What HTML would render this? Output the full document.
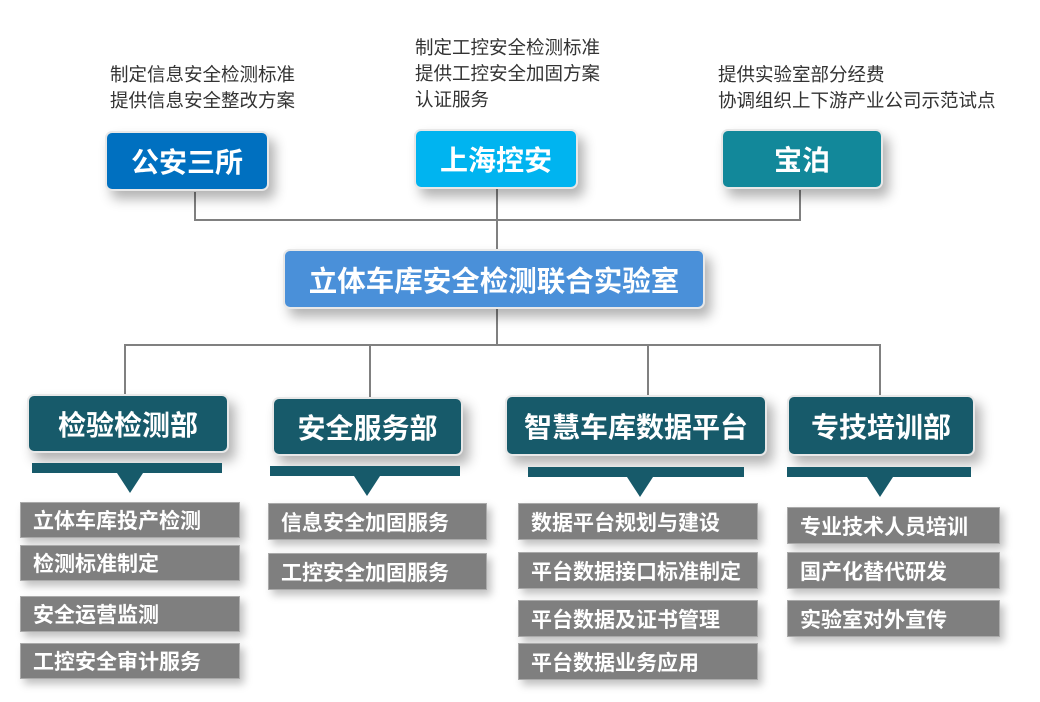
<!DOCTYPE html>
<html><head><meta charset="utf-8"><style>
body{margin:0;width:1040px;height:702px;background:#fff;position:relative;overflow:hidden;font-family:"Liberation Sans","Noto Sans CJK SC",sans-serif}
.a{position:absolute}
.t{color:#333;font-size:18.5px;line-height:26px}
.b{position:absolute;border-radius:7px;color:#fff;font-weight:bold;display:flex;align-items:center;justify-content:center;border:2px solid #e8e8e8;box-shadow:6px 8px 12px rgba(0,0,0,.3);box-sizing:border-box}
.d{background:#175a6a;font-size:28px}
.i{position:absolute;background:#7f7f7f;color:#fff;font-size:21px;font-weight:bold;display:flex;align-items:center;padding-left:12px;box-sizing:border-box;border:1px solid #aaa;box-shadow:4px 5px 8px rgba(0,0,0,.25);white-space:nowrap}
.l{position:absolute;background:#808080}
.bar{position:absolute;background:#175a6a;height:10px}
.tri{position:absolute;width:0;height:0;border-left:13px solid transparent;border-right:13px solid transparent;border-top:20px solid #175a6a}
</style></head><body>
<div class="a t" style="left:110px;top:62px">制定信息安全检测标准<br>提供信息安全整改方案</div>
<div class="a t" style="left:415px;top:35px">制定工控安全检测标准<br>提供工控安全加固方案<br>认证服务</div>
<div class="a t" style="left:718px;top:62px">提供实验室部分经费<br>协调组织上下游产业公司示范试点</div>

<div class="l" style="left:194px;top:192px;width:2px;height:29px"></div>
<div class="l" style="left:194px;top:219px;width:607px;height:2px"></div>
<div class="l" style="left:799px;top:190px;width:2px;height:30px"></div>
<div class="l" style="left:496px;top:188px;width:2px;height:62px"></div>
<div class="l" style="left:496px;top:308px;width:2px;height:38px"></div>
<div class="l" style="left:124px;top:344px;width:757px;height:2px"></div>
<div class="l" style="left:124px;top:344px;width:2px;height:52px"></div>
<div class="l" style="left:369px;top:344px;width:2px;height:54px"></div>
<div class="l" style="left:647px;top:344px;width:2px;height:53px"></div>
<div class="l" style="left:879px;top:344px;width:2px;height:53px"></div>

<div class="b" style="left:105px;top:131px;width:164px;height:60px;background:#0070c0;font-size:28px">公安三所</div>
<div class="b" style="left:414px;top:129px;width:164px;height:60px;background:#00b4f0;font-size:28px">上海控安</div>
<div class="b" style="left:721px;top:129px;width:162px;height:60px;background:#12889a;font-size:28px">宝泊</div>
<div class="b" style="left:283px;top:249px;width:422px;height:60px;background:#4a90d9;font-size:28.5px">立体车库安全检测联合实验室</div>

<div class="b d" style="left:27px;top:394px;width:202px;height:59px">检验检测部</div>
<div class="b d" style="left:272px;top:397px;width:191px;height:59px">安全服务部</div>
<div class="b d" style="left:505px;top:395px;width:262px;height:61px">智慧车库数据平台</div>
<div class="b d" style="left:787px;top:395px;width:188px;height:61px">专技培训部</div>

<div class="bar" style="left:32px;top:463px;width:190px"></div><div class="tri" style="left:117px;top:473px"></div>
<div class="bar" style="left:270px;top:466px;width:190px"></div><div class="tri" style="left:354px;top:476px"></div>
<div class="bar" style="left:528px;top:467px;width:216px"></div><div class="tri" style="left:627px;top:477px"></div>
<div class="bar" style="left:787px;top:467px;width:184px"></div><div class="tri" style="left:867px;top:477px"></div>

<div class="i" style="left:20px;top:502px;width:220px;height:36px">立体车库投产检测</div>
<div class="i" style="left:20px;top:545px;width:220px;height:36px">检测标准制定</div>
<div class="i" style="left:20px;top:596px;width:220px;height:36px">安全运营监测</div>
<div class="i" style="left:20px;top:643px;width:220px;height:36px">工控安全审计服务</div>

<div class="i" style="left:268px;top:503px;width:219px;height:37px">信息安全加固服务</div>
<div class="i" style="left:268px;top:553px;width:219px;height:37px">工控安全加固服务</div>

<div class="i" style="left:518px;top:503px;width:240px;height:37px">数据平台规划与建设</div>
<div class="i" style="left:518px;top:552px;width:240px;height:37px">平台数据接口标准制定</div>
<div class="i" style="left:518px;top:600px;width:240px;height:37px">平台数据及证书管理</div>
<div class="i" style="left:518px;top:643px;width:240px;height:37px">平台数据业务应用</div>

<div class="i" style="left:787px;top:507px;width:213px;height:37px">专业技术人员培训</div>
<div class="i" style="left:787px;top:552px;width:213px;height:37px">国产化替代研发</div>
<div class="i" style="left:787px;top:600px;width:213px;height:37px">实验室对外宣传</div>
</body></html>
